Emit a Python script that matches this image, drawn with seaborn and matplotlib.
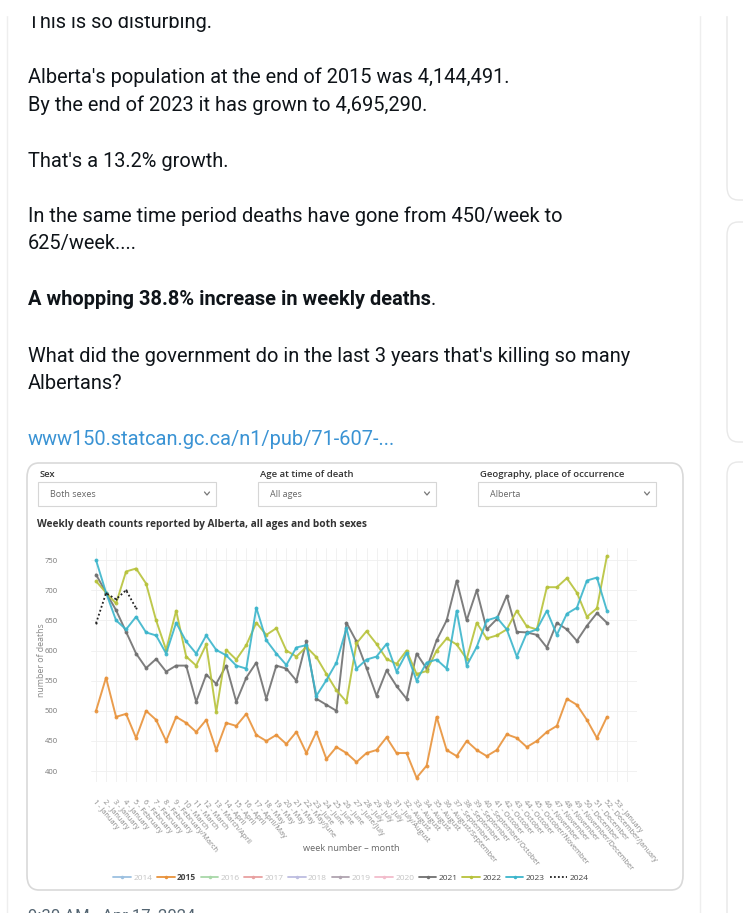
import numpy as np
import pandas as pd
import seaborn as sns
import matplotlib.pyplot as plt
from matplotlib.patches import FancyBboxPatch, Rectangle
from matplotlib.lines import Line2D

# weekly deaths, Alberta
weeks = list(range(1, 53))
deaths_2015 = [500, 555, 490, 495, 455, 500, 485, 450, 490, 480, 465, 485, 435, 480, 475, 495, 460, 450,
               460, 445, 465, 430, 465, 420, 440, 430, 415, 430, 435, 456, 430, 430, 389, 409, 490, 435,
               425, 450, 435, 425, 435, 461, 455, 440, 450, 465, 475, 520, 510, 485, 455, 490]
deaths_2021 = [726, 696, 667, 631, 595, 571, 586, 565, 575, 575, 515, 560, 545, 575, 515, 555, 580, 520,
               575, 570, 550, 615, 520, 510, 500, 646, 615, 571, 525, 567, 541, 520, 595, 570, 617, 650,
               716, 650, 700, 635, 652, 691, 631, 630, 626, 605, 646, 635, 616, 641, 662, 646]
deaths_2022 = [715, 696, 678, 731, 736, 711, 650, 601, 666, 590, 575, 610, 498, 601, 585, 609, 646, 626,
               637, 600, 590, 606, 589, 561, 534, 515, 612, 632, 611, 586, 578, 600, 561, 566, 600, 620,
               610, 586, 646, 620, 625, 635, 666, 640, 635, 705, 705, 720, 696, 656, 670, 757]
deaths_2023 = [750, 696, 650, 635, 656, 630, 625, 595, 646, 615, 595, 625, 601, 592, 575, 570, 671, 617,
               595, 576, 605, 609, 525, 551, 580, 637, 570, 585, 590, 611, 565, 596, 550, 580, 585, 570,
               666, 575, 606, 650, 655, 635, 590, 629, 635, 666, 626, 661, 671, 716, 721, 666]
deaths_2024 = [645, 695, 685, 700, 670]

tick_weeks = list(range(1, 54))
tick_months = ["January"] * 4 + ["February"] * 4 + ["February/March"] + ["March"] * 3 + ["March/April"] \
    + ["April"] * 3 + ["April/May"] + ["May"] * 4 + ["May/June"] + ["June"] * 4 + ["June/July"] \
    + ["July"] * 3 + ["July/August"] + ["August"] * 4 + ["August/September"] + ["September"] * 3 \
    + ["September/October"] + ["October"] * 4 + ["October/November"] + ["November"] * 3 \
    + ["November/December"] + ["December"] * 2 + ["December/January"] + ["January"]
tick_labels = [f"{w} - {m}" for w, m in zip(tick_weeks, tick_months)]

legend_years = ["2014", "2015", "2016", "2017", "2018", "2019", "2020", "2021", "2022", "2023", "2024"]
legend_colors = ["#9cc0e0", "#e8923a", "#a8d8a8", "#e8a0a0", "#bdbde0", "#b0a4b0", "#f2bccb",
                 "#707070", "#b7c23a", "#3bb5cb", "#222222"]
shown_years = ["2015", "2021", "2022", "2023", "2024"]

W, H = 743, 913
def fx(x):
    return x / W
def fy(y):
    return 1 - y / H

sns.set_style("white")
plt.rcParams["font.family"] = ["Roboto", "DejaVu Sans"]

fig = plt.figure(figsize=(W / 100, H / 100), dpi=100)
fig.patch.set_facecolor("white")

# tweet text
ink = "#0f1419"
fs = 14.4
tw = dict(fontsize=fs, color=ink, va="baseline", ha="left")
fig.text(fx(28), fy(28), "This is so disturbing.", **tw)
fig.add_artist(Rectangle((0, fy(15)), 1, 15 / H, transform=fig.transFigure, color="white", zorder=5))
fig.text(fx(28), fy(83), "Alberta's population at the end of 2015 was 4,144,491.", **tw)
fig.text(fx(28), fy(111), "By the end of 2023 it has grown to 4,695,290.", **tw)
fig.text(fx(28), fy(167), "That's a 13.2% growth.", **tw)
fig.text(fx(28), fy(222), "In the same time period deaths have gone from 450/week to", **tw)
fig.text(fx(28), fy(249), "625/week....", **tw)
bold = fig.text(fx(28), fy(305), "A whopping 38.8% increase in weekly deaths", fontweight="bold", **tw)
fig.canvas.draw()
bb = bold.get_window_extent(fig.canvas.get_renderer())
fig.text(bb.x1 / W, fy(305), ".", **tw)
fig.text(fx(28), fy(362), "What did the government do in the last 3 years that's killing so many", **tw)
fig.text(fx(28), fy(389), "Albertans?", **tw)
fig.text(fx(28), fy(445), "www150.statcan.gc.ca/n1/pub/71-607-...", fontsize=fs, color="#3a93d4",
         va="baseline", ha="left")

# page chrome
fig.add_artist(Line2D([fx(7), fx(7)], [0, 1], transform=fig.transFigure, color="#eeeeee", lw=1))
fig.add_artist(Line2D([fx(700), fx(700)], [0, 1], transform=fig.transFigure, color="#eeeeee", lw=1))
for y0, y1 in [(-20, 200), (222, 442), (462, 940)]:
    fig.add_artist(FancyBboxPatch((fx(727), fy(y1)), 40 / W, (y1 - y0) / H,
                                  boxstyle="round,pad=0,rounding_size=0.015", transform=fig.transFigure,
                                  fc="white", ec="#e8e8e8", lw=1))

# chart panel
panel = FancyBboxPatch((fx(27), fy(890)), 656 / W, 427 / H,
                       boxstyle="round,pad=0,rounding_size=0.016", transform=fig.transFigure,
                       fc="white", ec="#d9d9d9", lw=1.2, zorder=-5)
fig.add_artist(panel)
pf = ["Open Sans", "DejaVu Sans"]
for x, lab, val in [(40, "Sex", "Both sexes"), (260, "Age at time of death", "All ages"),
                    (480, "Geography, place of occurrence", "Alberta")]:
    fig.text(fx(x), fy(477), lab, fontsize=6.8, fontweight="semibold", color="#333333",
             family=pf, va="baseline")
    fig.add_artist(Rectangle((fx(x - 2), fy(506)), 178 / W, 24 / H, transform=fig.transFigure,
                             fc="white", ec="#d6d6d6", lw=0.8))
    fig.text(fx(x + 10), fy(497), val, fontsize=6.5, color="#666666", family=pf, va="baseline")
    cx = x + 167
    fig.add_artist(Line2D([fx(cx - 2.5), fx(cx), fx(cx + 2.5)], [fy(492), fy(495), fy(492)],
                          transform=fig.transFigure, color="#777777", lw=0.9))
fig.text(fx(37), fy(527), "Weekly death counts reported by Alberta, all ages and both sexes",
         fontsize=7.3, fontweight="bold", color="#333333", family=pf, va="baseline")

# plot
ax = fig.add_axes([fx(91), fy(782), (637 - 91) / W, (782 - 548) / H])
ax.set_zorder(3)
ax.patch.set_alpha(0)
series = [("2015", deaths_2015), ("2021", deaths_2021), ("2022", deaths_2022), ("2023", deaths_2023)]
for yr, vals in series:
    c = legend_colors[legend_years.index(yr)]
    sns.lineplot(x=weeks, y=vals, ax=ax, color=c, lw=1.4, marker="o", markersize=2.8,
                 markeredgewidth=0, alpha=0.9)
sns.lineplot(x=weeks[:len(deaths_2024)], y=deaths_2024, ax=ax, color="#222222", lw=1.3,
             linestyle=(0, (1, 1.3)), marker="o", markersize=1.5, markeredgewidth=0)

ax.set_xlim(0.5, 55)
ax.set_ylim(382, 770)
ax.set_yticks(range(400, 751, 50))
ax.set_xticks(tick_weeks)
ax.set_xticks([54, 55], minor=True)
ax.set_xticklabels(tick_labels, rotation=-50, ha="left", va="top", rotation_mode="anchor",
                   fontsize=5.3, color="#888888", family=pf)
ax.tick_params(axis="x", which="both", length=0, pad=12)
ax.tick_params(axis="y", length=0, pad=24, labelsize=5.5, labelcolor="#777777")
for t in ax.get_yticklabels():
    t.set_family(pf)
ax.grid(True, which="both", color="#efefef", lw=0.6)
ax.set_axisbelow(True)
for s in ax.spines.values():
    s.set_visible(False)
ax.set_ylabel("")
fig.text(fx(41), fy(660), "number of deaths", rotation=90, fontsize=6.3, color="#888888",
         family=pf, ha="center", va="center")
fig.text(fx(351), fy(851), "week number \u2013 month", fontsize=6.6, color="#666666",
         family=pf, ha="center", va="baseline")

# legend
handles = []
for yr, c in zip(legend_years, legend_colors):
    if yr == "2024":
        handles.append(Line2D([], [], color=c, lw=1.3, linestyle=(0, (1, 1.2))))
    else:
        handles.append(Line2D([], [], color=c, lw=1.3, marker="o", markersize=2.5, markeredgewidth=0))
leg = fig.legend(handles, legend_years, loc="center", bbox_to_anchor=(fx(351), fy(877)), ncol=11,
                 frameon=False, fontsize=6.0, handlelength=2.1, handletextpad=0.3, columnspacing=0.55)
for t in leg.get_texts():
    t.set_family(pf)
    if t.get_text() in shown_years:
        t.set_color("#444444")
    else:
        t.set_color("#c4c4c4")
    if t.get_text() == "2015":
        t.set_fontweight("bold")

fig.text(fx(28), fy(921), "9:30 AM \u00b7 Apr 17, 2024 \u00b7 ", fontsize=12, color="#536471", va="baseline")

fig.savefig("out.png", dpi=100, facecolor="white")
